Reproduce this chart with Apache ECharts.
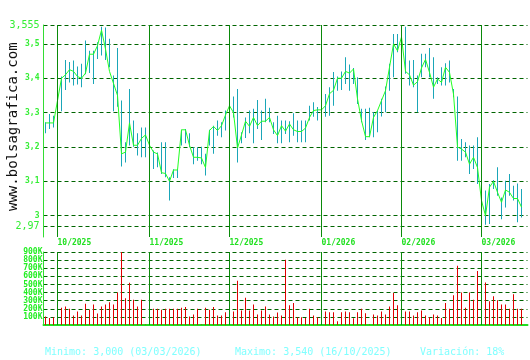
<!DOCTYPE html>
<html><head><meta charset="utf-8">
<script src="https://cdn.jsdelivr.net/npm/echarts@6/dist/echarts.min.js"></script>
<style>html,body{margin:0;padding:0;background:#fff}#c{width:530px;height:360px}</style>
</head><body><div id="c"></div>
<script>
const categories = [
'26/09/2025','29/09/2025','30/09/2025',
'01/10/2025','02/10/2025','03/10/2025','06/10/2025','07/10/2025','08/10/2025','09/10/2025','10/10/2025','13/10/2025','14/10/2025','15/10/2025','16/10/2025','17/10/2025','20/10/2025','21/10/2025','22/10/2025','23/10/2025','24/10/2025','27/10/2025','28/10/2025','29/10/2025','30/10/2025','31/10/2025',
'03/11/2025','04/11/2025','05/11/2025','06/11/2025','07/11/2025','10/11/2025','11/11/2025','12/11/2025','13/11/2025','14/11/2025','17/11/2025','18/11/2025','19/11/2025','20/11/2025','21/11/2025','24/11/2025','25/11/2025','26/11/2025','27/11/2025','28/11/2025',
'01/12/2025','02/12/2025','03/12/2025','04/12/2025','05/12/2025','08/12/2025','09/12/2025','10/12/2025','11/12/2025','12/12/2025','15/12/2025','16/12/2025','17/12/2025','18/12/2025','19/12/2025','22/12/2025','23/12/2025','24/12/2025','25/12/2025','26/12/2025','29/12/2025','30/12/2025','31/12/2025',
'02/01/2026','05/01/2026','07/01/2026','08/01/2026','09/01/2026','12/01/2026','13/01/2026','14/01/2026','15/01/2026','16/01/2026','19/01/2026','20/01/2026','21/01/2026','22/01/2026','23/01/2026','26/01/2026','27/01/2026','28/01/2026','29/01/2026','30/01/2026',
'02/02/2026','03/02/2026','04/02/2026','05/02/2026','06/02/2026','09/02/2026','10/02/2026','11/02/2026','12/02/2026','13/02/2026','16/02/2026','17/02/2026','18/02/2026','19/02/2026','20/02/2026','23/02/2026','24/02/2026','25/02/2026','26/02/2026','27/02/2026',
'02/03/2026','03/03/2026','04/03/2026','05/03/2026','06/03/2026','09/03/2026','10/03/2026','11/03/2026','12/03/2026','13/03/2026','16/03/2026'
];
const closeValues = [
3.27,3.27,3.27,3.335,3.40,3.41,3.425,3.42,3.405,3.40,
3.415,3.47,3.47,3.495,3.54,3.485,3.42,3.385,3.35,3.18,
3.185,3.27,3.205,3.205,3.225,3.235,3.205,3.185,3.18,3.125,
3.123,3.10,3.133,3.133,3.25,3.25,3.205,3.17,3.17,3.168,
3.14,3.248,3.26,3.248,3.262,3.293,3.32,3.30,3.197,3.235,
3.275,3.26,3.286,3.262,3.275,3.275,3.286,3.25,3.233,3.262,
3.246,3.267,3.25,3.245,3.245,3.255,3.286,3.306,3.308,3.308,
3.32,3.355,3.365,3.40,3.40,3.42,3.415,3.427,3.34,3.277,
3.23,3.23,3.286,3.306,3.335,3.364,3.432,3.50,3.48,3.52,
3.42,3.41,3.38,3.39,3.43,3.455,3.417,3.374,3.398,3.388,
3.432,3.417,3.354,3.20,3.194,3.185,3.15,3.17,3.14,3.044,
3.00,3.083,3.10,3.068,3.039,3.075,3.068,3.05,3.05,3.025
];
const highValues = [
3.272,3.296,3.291,3.34,3.405,3.453,3.447,3.452,3.434,3.442,
3.51,3.48,3.48,3.505,3.55,3.548,3.515,3.408,3.488,3.335,
3.214,3.369,3.277,3.24,3.257,3.257,3.233,3.19,3.184,3.214,
3.214,3.112,3.135,3.135,3.25,3.252,3.24,3.199,3.199,3.201,
3.18,3.25,3.262,3.277,3.272,3.306,3.35,3.347,3.369,3.243,
3.286,3.306,3.311,3.337,3.306,3.34,3.314,3.272,3.291,3.277,
3.277,3.275,3.298,3.277,3.277,3.277,3.32,3.33,3.316,3.311,
3.354,3.374,3.418,3.405,3.42,3.461,3.44,3.43,3.403,3.311,
3.311,3.314,3.301,3.306,3.34,3.376,3.442,3.529,3.529,3.553,
3.55,3.452,3.453,3.408,3.471,3.471,3.488,3.461,3.403,3.432,
3.444,3.452,3.369,3.347,3.223,3.214,3.204,3.204,3.228,3.121,
3.073,3.092,3.104,3.141,3.053,3.102,3.121,3.087,3.094,3.078
];
const lowValues = [
3.24,3.252,3.257,3.21,3.304,3.366,3.388,3.379,3.382,3.374,
3.412,3.415,3.383,3.456,3.466,3.453,3.432,3.304,3.317,3.143,
3.155,3.204,3.201,3.175,3.17,3.17,3.199,3.136,3.141,3.121,
3.112,3.044,3.11,3.11,3.204,3.211,3.199,3.15,3.16,3.15,
3.117,3.204,3.18,3.233,3.228,3.248,3.291,3.286,3.155,3.211,
3.226,3.24,3.211,3.252,3.22,3.272,3.272,3.238,3.211,3.211,
3.238,3.214,3.233,3.214,3.214,3.214,3.277,3.288,3.277,3.277,
3.288,3.291,3.32,3.364,3.366,3.383,3.364,3.383,3.325,3.272,
3.22,3.228,3.228,3.243,3.289,3.301,3.364,3.403,3.476,3.505,
3.413,3.379,3.374,3.301,3.403,3.432,3.403,3.34,3.383,3.379,
3.379,3.388,3.345,3.16,3.16,3.17,3.121,3.136,3.092,3.04,
2.974,2.976,3.078,3.058,2.99,3.024,3.058,3.044,2.981,2.995
];
const volumeValues = [
104000,87000,96000,200000,212000,229000,200000,117000,167000,117000,
262000,187000,254000,142000,229000,254000,279000,254000,400000,929000,
329000,521000,312000,229000,312000,5000,200000,200000,200000,187000,
200000,200000,200000,200000,212000,221000,104000,129000,200000,5000,
212000,187000,221000,117000,117000,158000,158000,167000,546000,179000,
337000,179000,254000,129000,179000,229000,129000,104000,154000,117000,
804000,242000,271000,96000,96000,87000,200000,117000,96000,96000,
167000,158000,158000,46000,158000,167000,158000,83000,158000,200000,
146000,5000,129000,117000,167000,129000,229000,396000,242000,167000,
167000,167000,117000,158000,179000,117000,96000,129000,117000,87000,
271000,200000,367000,729000,400000,212000,400000,312000,667000,387000,
525000,292000,354000,304000,254000,254000,200000,379000,200000,200000
];
const priceTicks = [2.97, 3, 3.1, 3.2, 3.3, 3.4, 3.5, 3.555];
const priceMin = 2.938, priceMax = 3.555;
const volumeTicks = { min: 0, max: 900000, step: 100000 };
const footerTexts = ['Minimo: 3,000 (03/03/2026)', 'Maximo: 3,540 (16/10/2025)', 'Variación: 18%'];
const watermark = 'www.bolsagrafica.com';

const monthStarts = categories.map((c, i) => (i > 0 && c.slice(3) !== categories[i - 1].slice(3)) ? i : -1).filter(i => i >= 0);
const rangeValues = highValues.map((h, i) => +(h - lowValues[i]).toFixed(4));
const mono = 'DejaVu Sans Mono';
const monthLine = {
  silent: true, symbol: 'none', animation: false,
  label: { show: false },
  lineStyle: { color: '#0a8a0a', width: 1, type: 'solid' },
  data: monthStarts.map(i => ({ xAxis: i }))
};
const dashed = { color: '#006400', width: 1, type: [4, 3] };

const chart = echarts.init(document.getElementById('c'), null, { renderer: 'canvas' });
chart.setOption({
  animation: false,
  backgroundColor: '#ffffff',
  grid: [
    { left: 43.5, top: 25, width: 484, height: 212 },
    { left: 43.5, top: 252, width: 484, height: 73 }
  ],
  xAxis: [
    { type: 'category', gridIndex: 0, data: categories, max: categories.length, boundaryGap: true,
      axisLine: { show: false }, axisTick: { show: false }, splitLine: { show: false },
      axisLabel: { interval: (idx) => monthStarts.includes(idx), formatter: (v) => v.slice(3),
        align: 'left', margin: 2, color: '#22e022', fontFamily: mono, fontWeight: 'bold', fontSize: 8 } },
    { type: 'category', gridIndex: 1, data: categories, max: categories.length, boundaryGap: true,
      axisLine: { show: true, lineStyle: { color: '#22dd22', width: 2 } }, axisTick: { show: false },
      axisLabel: { show: false }, splitLine: { show: false } }
  ],
  yAxis: [
    { type: 'value', gridIndex: 0, min: priceMin, max: priceMax, scale: true,
      axisLine: { show: true, lineStyle: { color: '#33dd33', width: 1 } },
      axisTick: { show: false, customValues: priceTicks },
      splitLine: { show: true, lineStyle: dashed },
      axisLabel: { customValues: priceTicks, margin: 4, fontFamily: mono,
        formatter: (v) => {
          const s = String(v).replace('.', ',');
          return (v === priceTicks[0] || v === priceTicks[priceTicks.length - 1]) ? '{big|' + s + '}' : '{sm|' + s + '}';
        },
        rich: { big: { fontSize: 10, color: '#33ee33', fontFamily: mono }, sm: { fontSize: 8, fontWeight: 'bold', color: '#33ee33', fontFamily: mono } } } },
    { type: 'value', gridIndex: 1, min: volumeTicks.min, max: volumeTicks.max, interval: volumeTicks.step,
      axisLine: { show: true, lineStyle: { color: '#33dd33', width: 1 } },
      axisTick: { show: false },
      splitLine: { show: true, lineStyle: dashed },
      axisLabel: { margin: 1, color: '#22ee22', fontFamily: mono, fontWeight: 'bold', fontSize: 8,
        formatter: (v) => v === 0 ? '' : (v / 1000) + 'K' } }
  ],
  graphic: [
    { type: 'text', rotation: Math.PI / 2, style: { text: watermark, font: '14px "DejaVu Sans Mono"', fill: '#111' },
      x: 6, y: 211, originX: 0, originY: 0 },
    { type: 'text', x: 45, y: 347, style: { text: footerTexts[0], font: '10px "DejaVu Sans Mono"', fill: '#80ffff' } },
    { type: 'text', x: 235, y: 347, style: { text: footerTexts[1], font: '10px "DejaVu Sans Mono"', fill: '#80ffff' } },
    { type: 'text', x: 420, y: 347, style: { text: footerTexts[2], font: '10px "DejaVu Sans Mono"', fill: '#80ffff' } }
  ],
  series: [
    { type: 'bar', xAxisIndex: 0, yAxisIndex: 0, stack: 'hl', data: lowValues, barWidth: 1, silent: true,
      itemStyle: { color: 'rgba(0,0,0,0)' } },
    { type: 'bar', xAxisIndex: 0, yAxisIndex: 0, stack: 'hl', data: rangeValues, barWidth: 1, silent: true,
      itemStyle: { color: '#1aa6b8' } },
    { type: 'line', xAxisIndex: 0, yAxisIndex: 0, z: 3, data: closeValues, symbol: 'none',
      lineStyle: { color: '#22ff22', width: 1 }, markLine: monthLine },
    { type: 'bar', xAxisIndex: 1, yAxisIndex: 1, data: volumeValues, barWidth: 1, silent: true,
      itemStyle: { color: '#e00000' }, markLine: monthLine }
  ]
});
</script></body></html>
